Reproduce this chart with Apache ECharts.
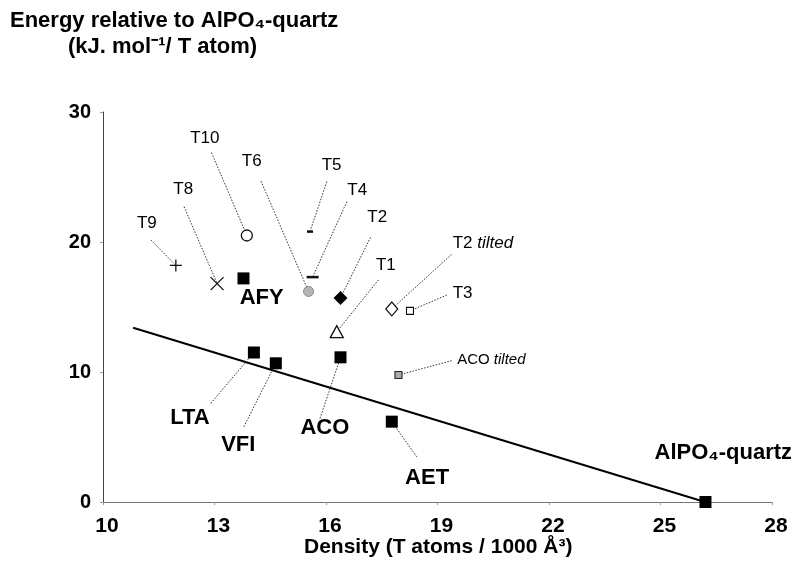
<!DOCTYPE html>
<html>
<head>
<meta charset="utf-8">
<script src="https://cdn.jsdelivr.net/npm/echarts@6/dist/echarts.min.js"></script>
<style>
  html, body { margin: 0; padding: 0; background: #fff; }
  #chart { width: 791px; height: 573px; }
</style>
</head>
<body>
<div id="chart"></div>
<script>
// framework names and their (density, energy) values
const names = ['T9', 'T8', 'T10', 'T6', 'T5', 'T4', 'T2', 'T1', 'T2 tilted', 'T3',
    'ACO tilted', 'AFY', 'LTA', 'VFI', 'ACO', 'AET', 'AlPO4-quartz'];
const density = [11.96, 13.07, 13.87, 15.53, 15.57, 15.64, 16.39, 16.29, 17.77, 18.26,
    17.95, 13.78, 14.06, 14.65, 16.39, 17.77, 26.21];
const energy = [18.2, 16.8, 20.5, 16.2, 20.8, 17.3, 15.7, 13.1, 14.85, 14.7,
    9.77, 17.2, 11.5, 10.67, 11.13, 6.18, 0];

const fitX = [10.81, 26.2];
const fitY = [13.4, 0];

// axis ticks
const xTicks = [10, 13, 16, 19, 22, 25, 28];
const yTicks = [0, 10, 20, 30];

// where each label and the start of its dotted leader sit (in data units)
const labelAt = {
    'T9': [11.18, 21.44], 'T8': [12.16, 24.05], 'T10': [12.74, 27.98], 'T6': [14.0, 26.18],
    'T5': [16.15, 25.92], 'T4': [16.84, 24.0], 'T2': [17.38, 21.9], 'T1': [17.61, 18.23],
    'T2 tilted': [19.41, 19.9], 'T3': [19.41, 16.05], 'ACO tilted': [19.53, 10.92],
    'AFY': [14.27, 15.67], 'LTA': [12.34, 6.44], 'VFI': [13.64, 4.38], 'ACO': [15.97, 5.67],
    'AET': [18.72, 1.85], 'AlPO4-quartz': [26.69, 3.75]
};
const leaderFrom = {
    'T9': [11.29, 20.15], 'T8': [12.18, 22.72], 'T10': [12.92, 26.87], 'T6': [14.25, 24.69],
    'T5': [16.02, 24.64], 'T4': [16.56, 23.1], 'T2': [17.2, 20.36], 'T1': [17.41, 17.08],
    'T2 tilted': [19.38, 19.05], 'T3': [19.25, 15.92], 'ACO tilted': [19.38, 10.87],
    'LTA': [12.9, 7.59], 'VFI': [13.79, 5.79], 'ACO': [15.84, 6.44], 'AET': [18.44, 3.48]
};

const FONT = '"Liberation Sans", Arial, sans-serif';
const square = { symbol: 'rect', size: 12, color: '#000', border: '#000', bw: 0 };
const markers = {
    'T9': { symbol: 'path://M0,5L10,5M5,0L5,10', size: 12, color: 'transparent', border: '#111', bw: 1.3 },
    'T8': { symbol: 'path://M0,0L10,10M10,0L0,10', size: 13, color: 'transparent', border: '#111', bw: 1.3 },
    'T10': { symbol: 'circle', size: 11, color: '#fff', border: '#111', bw: 1.3 },
    'T6': { symbol: 'circle', size: 10, color: '#b5b5b5', border: '#8a8a8a', bw: 1 },
    'T5': { symbol: 'rect', size: [6, 2.5], color: '#111', border: '#111', bw: 0 },
    'T4': { symbol: 'rect', size: [12, 2.5], color: '#111', border: '#111', bw: 0 },
    'T2': { symbol: 'diamond', size: 14, color: '#000', border: '#000', bw: 0 },
    'T1': { symbol: 'triangle', size: [13, 12], color: '#fff', border: '#111', bw: 1.3 },
    'T2 tilted': { symbol: 'diamond', size: [12, 14], color: '#fff', border: '#111', bw: 1.2 },
    'T3': { symbol: 'rect', size: 7, color: '#fff', border: '#111', bw: 1.1 },
    'ACO tilted': { symbol: 'rect', size: 7, color: '#aaa', border: '#222', bw: 1.1 },
    'AFY': square, 'LTA': square, 'VFI': square, 'ACO': square, 'AET': square, 'AlPO4-quartz': square
};
const boldNames = ['AFY', 'LTA', 'VFI', 'ACO', 'AET', 'AlPO4-quartz'];
const leftAligned = ['T2 tilted', 'T3', 'ACO tilted'];

function labelText (name) {
    if (name === 'T2 tilted') return '{n|T2 }{i|tilted}';
    if (name === 'ACO tilted') return '{s|ACO }{si|tilted}';
    if (name === 'AlPO4-quartz') return 'AlPO\u2084-quartz';
    return name;
}

const pointData = names.map(function (name, i) {
    const m = markers[name];
    return {
        name: name,
        value: [density[i], energy[i]],
        symbol: m.symbol,
        symbolSize: m.size,
        itemStyle: { color: m.color, borderColor: m.border, borderWidth: m.bw, opacity: 1 }
    };
});

const plain = { color: '#000', fontFamily: FONT, textBorderWidth: 0 };
const labelData = names.map(function (name) {
    const bold = boldNames.indexOf(name) >= 0;
    const left = leftAligned.indexOf(name) >= 0;
    return {
        name: name,
        value: labelAt[name],
        label: {
            show: true,
            position: left ? 'right' : 'inside',
            distance: 0,
            formatter: labelText(name),
            color: '#000',
            opacity: 1,
            textBorderWidth: 0,
            textBorderColor: 'transparent',
            fontFamily: FONT,
            fontSize: bold ? 22 : 17,
            fontWeight: bold ? 'bold' : 'normal',
            rich: {
                n: Object.assign({ fontSize: 17 }, plain),
                i: Object.assign({ fontSize: 17, fontStyle: 'italic' }, plain),
                s: Object.assign({ fontSize: 15 }, plain),
                si: Object.assign({ fontSize: 15, fontStyle: 'italic' }, plain)
            }
        }
    };
});

const leaderData = names.filter(function (name) {
    return leaderFrom[name];
}).map(function (name) {
    const i = names.indexOf(name);
    return { coords: [leaderFrom[name], [density[i], energy[i]]] };
});

const chart = echarts.init(document.getElementById('chart'));
chart.setOption({
    backgroundColor: '#fff',
    animation: false,
    grid: { left: 103, right: 19, top: 112, bottom: 71 },
    graphic: [
        {
            type: 'text', left: 10, top: 10,
            style: { text: 'Energy relative to AlPO\u2084-quartz', font: 'bold 22px ' + FONT, fill: '#000' }
        },
        {
            type: 'text', left: 68, top: 36,
            style: { text: '(kJ. mol\u207B\u00B9/ T atom)', font: 'bold 22px ' + FONT, fill: '#000' }
        },
        {
            type: 'text', left: 304, top: 537,
            style: { text: 'Density (T atoms / 1000 \u00C5\u00B3)', font: 'bold 21px ' + FONT, fill: '#000' }
        }
    ],
    xAxis: {
        type: 'value',
        min: xTicks[0],
        max: xTicks[xTicks.length - 1],
        interval: xTicks[1] - xTicks[0],
        axisLine: { lineStyle: { color: '#777', width: 1 } },
        axisTick: { show: true, length: 3, lineStyle: { color: '#999' } },
        splitLine: { show: false },
        axisLabel: { margin: 14, color: '#000', fontSize: 21, fontWeight: 'bold', fontFamily: FONT, padding: [0, 0, 0, 8] }
    },
    yAxis: {
        type: 'value',
        min: yTicks[0],
        max: yTicks[yTicks.length - 1],
        interval: yTicks[1] - yTicks[0],
        axisLine: { show: true, lineStyle: { color: '#444', width: 1 } },
        axisTick: { show: true, length: 3, lineStyle: { color: '#999' } },
        splitLine: { show: false },
        axisLabel: { margin: 12, color: '#000', fontSize: 20, fontWeight: 'bold', fontFamily: FONT }
    },
    series: [
        {
            type: 'line',
            data: [[fitX[0], fitY[0]], [fitX[1], fitY[1]]],
            symbol: 'none',
            lineStyle: { color: '#000', width: 2 },
            z: 2
        },
        {
            type: 'lines',
            coordinateSystem: 'cartesian2d',
            data: leaderData,
            lineStyle: { color: '#333', width: 1, type: [1.5, 1.5], opacity: 1 },
            z: 3
        },
        {
            type: 'scatter',
            data: pointData,
            z: 5
        },
        {
            type: 'scatter',
            data: labelData,
            symbolSize: 0,
            itemStyle: { opacity: 1 },
            silent: true,
            z: 6
        }
    ]
});
</script>
</body>
</html>
